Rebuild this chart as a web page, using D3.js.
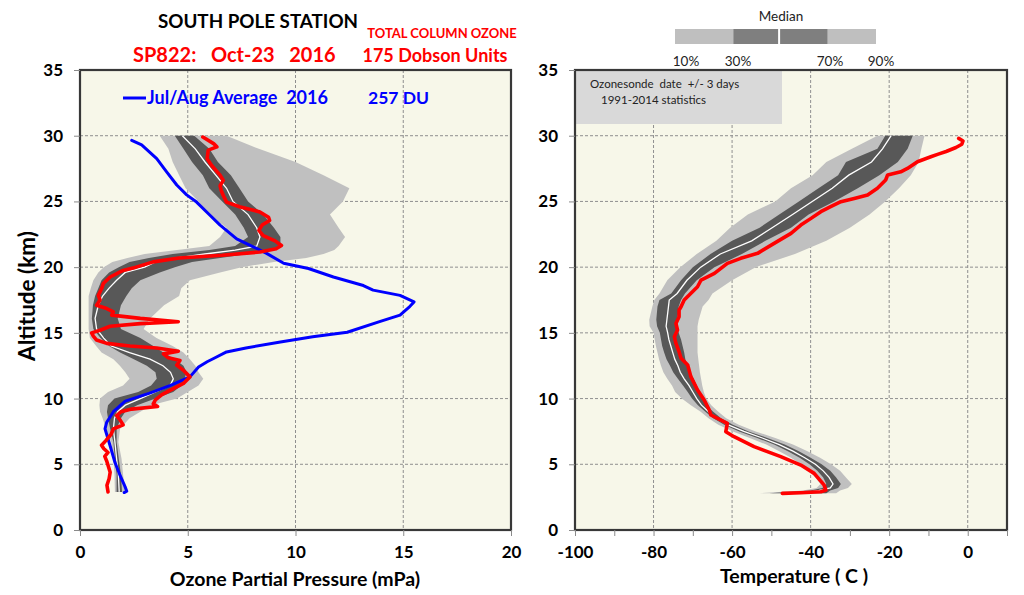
<!DOCTYPE html>
<html><head><meta charset="utf-8">
<script src="https://cdn.jsdelivr.net/npm/d3@7"></script>
<style>
body{margin:0;background:#fff}
text{font-family:Lato,'Open Sans',sans-serif}
</style>
</head><body>
<svg id="c" width="1024" height="595"></svg>
<script>
// ---------- Ozone climatology (percentiles, mPa) ----------
const ozBandAlt = [30,29,28,27,26,25,24,23,22.3,21.6,21.3,21,20.7,20.4,20,19.6,19,18.4,17.8,17.1,16.1,15.3,14.6,14,13.5,13,12.5,12,11.5,11,10.5,10,9.5,9,8.5,7.7,6.7,5.4,4.2,2.9];
const ozP10 = [3.7,4.1,4.3,4.6,4.9,5.5,6.0,6.8,6.5,6.0,4.5,3.0,2.2,1.5,1.1,0.85,0.62,0.5,0.4,0.4,0.4,0.4,0.46,0.75,1.0,1.55,1.85,2.1,2.3,2.0,1.3,0.93,0.9,0.93,1.05,1.2,1.45,1.55,1.6,1.62];
const ozP30 = [4.4,4.8,5.2,5.7,6.0,6.6,7.2,7.6,7.8,7.2,6.0,4.3,3.2,2.3,1.8,1.35,1.0,0.85,0.7,0.6,0.55,0.62,0.95,1.35,1.86,2.5,3.1,3.5,3.56,3.3,2.7,1.6,1.3,1.25,1.3,1.4,1.55,1.62,1.7,1.7];
const ozMed = [4.75,5.35,5.8,6.3,6.8,7.1,7.8,8.2,8.35,8.2,7.2,5.8,4.5,3.5,3.0,2.1,1.7,1.35,1.05,0.85,0.7,0.77,1.1,1.45,2.3,3.25,3.85,4.2,4.33,4.18,3.5,2.8,2.1,1.75,1.6,1.55,1.62,1.7,1.78,1.82];
const ozP70 = [5.3,6.0,6.4,7.0,7.4,7.8,8.5,9.0,9.3,9.3,8.8,7.8,6.5,5.2,4.4,3.7,2.8,2.4,2.15,1.9,1.75,1.9,2.8,3.4,3.87,4.4,4.8,4.95,4.85,4.7,4.33,3.5,2.65,2.1,1.9,1.7,1.7,1.8,1.9,1.95];
const ozP90 = [6.8,8.3,10.0,11.3,12.5,12.2,11.6,12.0,12.3,12.0,11.8,11.3,10.5,9.0,7.5,6.5,5.1,4.7,4.6,3.9,3.25,2.95,3.55,4.3,4.8,5.1,5.35,5.5,5.72,5.5,5.0,4.5,3.3,2.8,2.3,1.86,1.78,1.93,2.0,2.1];

// ---------- Sonde ozone profile SP822 Oct-23 2016 ----------
const sondeOzAlt = [29.9,29.4,29.15,28.9,28.25,27.75,27.0,26.6,26.2,25.85,25.45,24.95,24.6,24.2,23.8,23.55,23.2,22.8,22.4,22.0,21.65,21.4,21.15,20.9,20.7,20.4,20.0,19.75,19.25,18.75,18.35,17.85,17.5,17.1,16.85,16.6,16.35,16.1,15.85,15.7,15.5,15.2,15.0,14.75,14.45,14.2,14.0,13.85,13.6,13.4,13.1,12.9,12.55,12.15,11.65,11.15,10.65,10.3,9.9,9.6,9.4,9.2,9.0,8.7,8.4,8.0,7.7,7.3,6.8,6.45,6.2,5.9,5.6,5.2,4.4,3.9,3.4,2.9];
const sondeOz = [5.7,6.2,6.35,5.95,5.9,6.1,6.5,6.65,6.5,6.55,6.65,6.8,7.4,8.35,8.75,8.8,8.45,8.3,8.5,9.05,9.35,9.1,8.35,6.6,4.6,3.4,2.6,2.0,1.4,1.08,1.0,0.85,0.93,0.77,1.24,1.55,1.47,2.8,4.56,2.8,1.4,0.93,0.54,0.62,0.77,1.24,2.32,3.56,4.56,3.87,4.1,4.64,4.49,4.8,5.1,4.8,4.2,3.8,3.5,3.4,3.6,2.4,1.9,1.7,1.85,2.0,1.55,1.45,1.2,1.0,1.1,1.3,1.15,1.25,1.4,1.35,1.25,1.3];

// ---------- Jul/Aug average 2016 ozone ----------
const julAugAlt = [29.65,29.3,28.25,27.25,26.25,25.5,24.95,23.95,23.2,22.15,21.55,21.05,20.3,19.9,19.25,18.6,18.25,17.85,17.35,17.0,16.35,15.85,15.05,14.7,14.3,13.85,13.55,13.05,12.8,12.4,11.65,11.0,10.4,9.8,9.0,8.2,7.7,6.45,5.15,4.15,3.3,2.95,2.85];
const julAugOz = [2.4,2.86,3.56,4.02,4.49,4.95,5.41,6.03,6.5,7.27,8.04,8.66,9.45,10.6,11.76,13.15,13.6,14.85,15.5,15.3,14.85,13.9,12.4,10.8,9.3,7.7,6.8,6.2,5.9,5.5,5.1,4.2,3.2,2.1,1.55,1.24,1.16,1.39,1.62,1.86,2.09,2.17,2.05];

// ---------- Temperature climatology (percentiles, C) ----------
const tBandAlt = [30,29,28,27,26,25,24,23,22,21,20,19,18,17.5,17,16,15.5,15,14.5,14,13.5,13,12.5,12,11.5,11,10.5,10,9.5,9,8.5,8,7.5,7,6.5,6,5.5,5,4.5,4,3.5,3.2,3.0,2.8];
const tP10 = [-23,-29.5,-36,-39.5,-45,-49,-56,-60.5,-64,-69,-73.2,-76.5,-78.5,-79.8,-80.3,-81.1,-81.0,-80.0,-79.7,-79.4,-79.0,-78.6,-78.1,-77.5,-76.5,-75.3,-74.5,-72.8,-70.5,-68.0,-66.0,-63.5,-59.8,-55.5,-51.3,-48.0,-45.0,-42.5,-40.5,-38.8,-37.5,-38.5,-42.0,-53.0];
const tP30 = [-21,-23,-31,-33,-38,-43,-48,-53,-60,-65.5,-70,-73,-75.5,-78.5,-79.0,-79.3,-79.1,-78.4,-78.1,-77.8,-77.3,-76.7,-75.8,-75.0,-73.8,-72.5,-71.3,-70.2,-68.7,-66.8,-64.8,-62.0,-58.2,-53.6,-49.3,-45.8,-42.8,-40.3,-38.3,-36.8,-36.0,-37.0,-40.0,-50.5];
const tMed = [-19.5,-21.7,-24.5,-30.3,-34.5,-39.6,-44.6,-49.8,-55,-63,-68,-71.5,-74,-76.0,-76.2,-76.6,-76.8,-76.4,-76.1,-75.6,-75.1,-74.6,-73.8,-73.2,-72.2,-71.0,-70.0,-69.0,-67.8,-66.0,-64.0,-61.0,-57.0,-52.3,-48.0,-44.5,-41.5,-38.8,-36.8,-35.3,-34.3,-35.0,-38.0,-42.0];
const tP70 = [-14,-15.3,-17.8,-22.5,-28,-34,-40.5,-45,-51.5,-57.5,-64.5,-69,-72,-73.0,-73.6,-73.9,-73.9,-73.6,-73.0,-72.6,-72.2,-71.9,-71.3,-70.8,-69.8,-69.0,-68.2,-67.7,-66.6,-64.8,-62.8,-59.8,-55.8,-51.0,-46.6,-43.0,-40.0,-37.2,-35.0,-33.5,-32.3,-33.0,-35.0,-36.0];
const tP90 = [-11,-11.8,-12.5,-14.5,-17.5,-21,-25,-30,-36,-44,-54,-60,-65,-66.0,-67.5,-68.5,-68.8,-68.8,-68.8,-68.8,-68.8,-68.6,-68.4,-68.2,-67.9,-67.6,-67.2,-66.6,-65.3,-63.5,-61.5,-58.3,-54.0,-49.0,-44.5,-40.8,-37.6,-34.8,-32.5,-31.0,-29.5,-30.5,-32.5,-33.5];

// ---------- Sonde temperature profile ----------
const sondeTAlt = [29.8,29.6,29.35,29.1,28.8,28.6,28.4,28.02,27.51,27.25,27.01,26.63,26.0,25.49,25.23,24.98,24.6,24.22,23.71,23.2,22.57,21.81,21.05,20.67,20.29,19.52,19.02,18.51,17.5,16.99,16.74,16.23,15.72,15.22,14.71,14.2,13.57,13.06,12.55,11.67,10.65,9.89,9.13,8.75,8.12,7.48,7.1,6.34,5.58,4.94,4.31,3.43,3.04,2.91,2.84,2.79];
const sondeT = [-2.3,-1.2,-1.5,-3.0,-5.5,-7.5,-9.4,-12.8,-15.35,-17.05,-20.4,-20.9,-23.0,-25.5,-28.9,-32.3,-34.9,-37.4,-39.9,-42.5,-45.0,-49.3,-53.5,-57.8,-61.2,-64.5,-67.9,-68.8,-72.2,-73.0,-73.5,-73.5,-74.3,-73.9,-74.7,-74.3,-73.5,-73.0,-71.3,-70.5,-68.8,-67.1,-65.8,-65.4,-61.2,-61.6,-59.5,-54.4,-47.6,-42.5,-39.1,-36.6,-36.1,-37.4,-42.5,-47.2];

// ---------- Axis ticks ----------
const altTicks = [0,5,10,15,20,25,30,35];
const ozTicks = [0,5,10,15,20];
const tTicks = [-100,-80,-60,-40,-20,0];
const tMinorTicks = [-100,-90,-80,-70,-60,-50,-40,-30,-20,-10,0,10];
const pctLabels = ["10%","30%","70%","90%"];

// ---------- Drawing ----------
const svg = d3.select('#c');
const y = d3.scaleLinear([0,35],[530,70]);
const xO = d3.scaleLinear([0,20],[80,511]);
const xT = d3.scaleLinear([-100,10],[575,1007]);
const LIGHT = '#c0c0c0', DARK = '#585858';
const fmt = d => String(d);

function zip(a, b){ return a.map((v,i)=>[v,b[i]]); }

function panel(x, gridX, bands, med, profiles) {
  const [x0,x1] = x.range();
  const g = svg.append('g');
  g.append('rect').attr('x',x0).attr('y',y(35)).attr('width',x1-x0).attr('height',y(0)-y(35)).attr('fill','#f7f7e9');
  g.selectAll('.gy').data([5,10,15,20,25,30]).join('line')
    .attr('x1',x0).attr('x2',x1).attr('y1',d=>y(d)).attr('y2',d=>y(d))
    .attr('stroke','#8f8f8f').attr('stroke-width',1).attr('stroke-dasharray','3,2');
  g.selectAll('.gx').data(gridX).join('line')
    .attr('x1',d=>x(d)).attr('x2',d=>x(d)).attr('y1',y(35)).attr('y2',y(0))
    .attr('stroke','#8f8f8f').attr('stroke-width',1).attr('stroke-dasharray','3,2');
  bands.forEach(([alt,lo,hi,col])=>{
    const d = alt.map((a,i)=>({a,lo:lo[i],hi:hi[i]}));
    g.append('path').datum(d).attr('fill',col)
      .attr('d', d3.area().y(p=>y(p.a)).x0(p=>x(p.lo)).x1(p=>x(p.hi)));
  });
  g.append('path').datum(zip(med[0],med[1])).attr('fill','none').attr('stroke','#ffffff').attr('stroke-width',1.3)
    .attr('d', d3.line().x(p=>x(p[1])).y(p=>y(p[0])));
  profiles.forEach(([alt,vals,col,w])=>{
    g.append('path').datum(zip(alt,vals)).attr('fill','none').attr('stroke',col).attr('stroke-width',w)
      .attr('stroke-linejoin','round').attr('stroke-linecap','round')
      .attr('d', d3.line().x(p=>x(p[1])).y(p=>y(p[0])));
  });
  return g;
}

function frame(x){
  const [x0,x1] = x.range();
  svg.append('rect').attr('x',x0).attr('y',y(35)).attr('width',x1-x0).attr('height',y(0)-y(35))
    .attr('fill','none').attr('stroke','#383838').attr('stroke-width',2.2);
}

// Left panel: ozone
panel(xO, [5,10,15],
  [[ozBandAlt,ozP10,ozP90,LIGHT],[ozBandAlt,ozP30,ozP70,DARK]],
  [ozBandAlt,ozMed],
  [[julAugAlt,julAugOz,'#0000ff',3],[sondeOzAlt,sondeOz,'#ff0000',3.6]]);
frame(xO);

// Right panel: temperature
panel(xT, [-80,-60,-40,-20,0],
  [[tBandAlt,tP10,tP90,LIGHT],[tBandAlt,tP30,tP70,DARK]],
  [tBandAlt,tMed],
  [[sondeTAlt,sondeT,'#ff0000',3.6]]);
svg.append('rect').attr('x',575).attr('y',70).attr('width',207).attr('height',54).attr('fill','#d9d9d9');
svg.append('text').attr('x',590).attr('y',88).attr('font-size',11.5).attr('fill','#222').style('white-space','pre').text('Ozonesonde  date  +/- 3 days');
svg.append('text').attr('x',601).attr('y',104).attr('font-size',11.5).attr('fill','#222').text('1991-2014 statistics');
frame(xT);

// Axes
function styleAxis(sel){
  sel.select('.domain').remove();
  sel.selectAll('.tick line').attr('stroke','#8a8a8a');
  sel.selectAll('.tick text').attr('font-size',17).attr('font-weight','bold').attr('fill','#000')
    .attr('font-family','Lato, "Open Sans", sans-serif');
}
svg.append('g').attr('transform','translate(0,530)')
  .call(d3.axisBottom(xO).tickValues(ozTicks).tickSize(6).tickPadding(10).tickFormat(fmt)).call(styleAxis);
svg.append('g').attr('transform','translate(80,0)')
  .call(d3.axisLeft(y).tickValues(altTicks).tickSize(6).tickPadding(11).tickFormat(fmt)).call(styleAxis);
svg.append('g').attr('transform','translate(0,530)')
  .call(d3.axisBottom(xT).tickValues(tMinorTicks).tickSize(6).tickFormat('')).call(styleAxis);
svg.append('g').attr('transform','translate(0,530)')
  .call(d3.axisBottom(xT).tickValues(tTicks).tickSize(0).tickPadding(16).tickFormat(fmt)).call(styleAxis);
svg.append('g').attr('transform','translate(575,0)')
  .call(d3.axisLeft(y).tickValues(altTicks).tickSize(6).tickPadding(11).tickFormat(fmt)).call(styleAxis);

// Axis titles
svg.append('text').attr('x',295).attr('y',586).attr('text-anchor','middle').attr('font-size',19.5).attr('font-weight','bold').text('Ozone Partial Pressure (mPa)');
svg.append('text').attr('x',794).attr('y',583).attr('text-anchor','middle').attr('font-size',19.5).attr('font-weight','bold').style('white-space','pre').text('Temperature ( C )');
svg.append('text').attr('transform','translate(35,296) rotate(-90)').attr('text-anchor','middle').attr('font-size',22.5).attr('font-weight','bold').text('Altitude (km)');

// Titles
svg.append('text').attr('x',258).attr('y',28).attr('text-anchor','middle').attr('font-size',18.8).attr('font-weight','bold').text('SOUTH POLE STATION');
svg.append('text').attr('x',133).attr('y',62).attr('font-size',20).attr('font-weight','bold').attr('fill','#ff0000').style('white-space','pre').text('SP822:   Oct-23   2016');
svg.append('text').attr('x',442).attr('y',38).attr('text-anchor','middle').attr('font-size',13).attr('font-weight','bold').attr('fill','#ff0000').text('TOTAL COLUMN OZONE');
svg.append('text').attr('x',435).attr('y',62).attr('text-anchor','middle').attr('font-size',18).attr('font-weight','bold').attr('fill','#ff0000').text('175 Dobson Units');

// Blue legend
svg.append('line').attr('x1',123).attr('x2',146).attr('y1',98).attr('y2',98).attr('stroke','#0000ff').attr('stroke-width',3);
svg.append('text').attr('x',147).attr('y',104).attr('font-size',18).attr('font-weight','bold').attr('fill','#0000ff').style('white-space','pre').text('Jul/Aug Average  2016');
svg.append('text').attr('x',368).attr('y',104).attr('font-size',17.5).attr('font-weight','bold').attr('fill','#0000ff').text('257 DU');

// Percentile legend bar
const barX = d3.scaleLinear([0,100],[675,876]);
const segs = [[0,29,'#bfbfbf'],[29,52,'#7f7f7f'],[52,76,'#7f7f7f'],[76,100,'#bfbfbf']];
svg.selectAll('.seg').data(segs).join('rect')
  .attr('x',d=>barX(d[0])).attr('width',d=>barX(d[1])-barX(d[0])).attr('y',29).attr('height',15).attr('fill',d=>d[2]);
svg.append('rect').attr('x',barX(51.3)).attr('width',2).attr('y',29).attr('height',15).attr('fill','#fff');
svg.append('text').attr('x',781).attr('y',21).attr('text-anchor','middle').attr('font-size',13.5).attr('fill','#222').text('Median');
const pctX = [686,738,830,881];
svg.selectAll('.pl').data(pctLabels).join('text')
  .attr('x',(d,i)=>pctX[i]).attr('y',66).attr('text-anchor','middle').attr('font-size',13.5).attr('fill','#222').text(d=>d);
</script>
</body></html>
